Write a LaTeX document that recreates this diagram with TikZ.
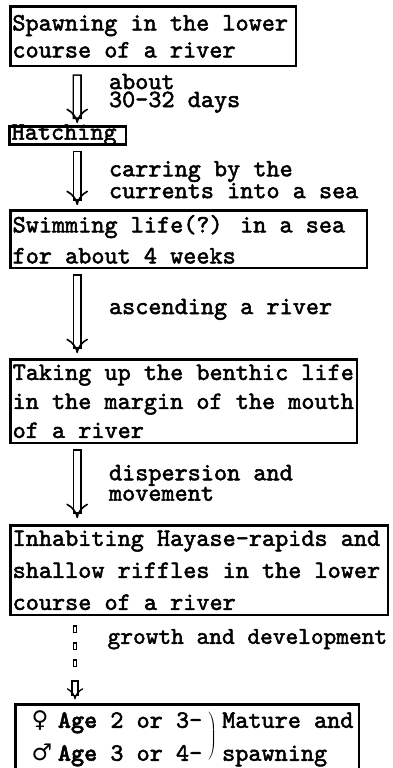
\documentclass[tikz,border=0pt]{standalone}
\usepackage{fontspec}
\setmainfont{lmmono10-regular.otf}[BoldFont=lmmonolt10-bold.otf, FakeBold=2]
\newfontfamily\gendersym{DejaVu Sans}
\usetikzlibrary{positioning,arrows.meta}

\newcommand{\stagefont}[1]{\fontsize{25}{#1}\selectfont}
\newcommand{\lblfont}{\fontsize{25}{18}\selectfont}
\newcommand{\sex}[1]{\makebox[13.1pt][l]{\gendersym\fontsize{23}{23}\selectfont #1}}

\begin{document}
\begin{tikzpicture}[
    x=1pt, y=-1pt,
    stage/.style={draw, line width=2.7pt, anchor=north west, align=flush left, inner xsep=2pt, inner ysep=0pt, font=\stagefont{30}},
    lbl/.style={align=left, inner sep=0pt, font=\lblfont},
    bigarrow/.style={draw, double, double distance=6pt, line width=1.6pt, line cap=rect, -{Implies}},
    dotline/.style={draw, double, double distance=1.6pt, line width=1.3pt, line cap=rect, dash pattern=on 3.5pt off 13.5pt}
]
\useasboundingbox (0,0) rectangle (392,768);

% Stages
\node[stage, text width=281.5pt, minimum height=59.3pt, font=\stagefont{27}] (spawn) at (9.1,5.3) {Spawning in the lower\\course of a river};
\node[stage, text width=112.3pt, text height=13pt, text depth=5pt] (hatch) at (8.3,125.3) {Hatching};
\node[stage, text width=352.3pt, minimum height=57.3pt, font=\stagefont{31}] (swim) at (9.3,209.3) {Swimming life(?) in a sea\\for about 4 weeks};
\node[stage, text width=342.3pt, minimum height=83.3pt, font=\stagefont{29}] (benthic) at (9.3,358.3) {Taking up the benthic life\\in the margin of the mouth\\of a river};
\node[stage, text width=373.3pt, minimum height=89.3pt, font=\stagefont{32}] (inhabit) at (9.3,524.3) {Inhabiting Hayase-rapids and\\shallow riffles in the lower\\course of a river};
\node[stage, text width=339.3pt, minimum height=62.3pt, font=\stagefont{33}] (mature) at (14.3,703.3)
    {\hspace*{14pt}\begin{tabular}{@{}l@{\hspace{5pt}}c@{\hspace{5pt}}l@{}}
     \sex{♀} \textbf{Age} 2 or 3- & \smash{\raisebox{-15pt}{$\left.\vcenter{\hrule height 52pt width 0pt}\right)$}} & Mature and\\
     \sex{♂} \textbf{Age} 3 or 4- & & spawning
     \end{tabular}};

% Arrows
\draw[bigarrow, shorten <=11.6pt, shorten >=2.2pt] ([xshift=68.1pt]spawn.south west) -- node[lbl, right=31pt, yshift=3pt] {about\\30-32 days} ([xshift=68.9pt]hatch.north west);
\draw[bigarrow, shorten <=9.2pt, shorten >=4.2pt] ([xshift=68.9pt]hatch.south west) -- node[lbl, right=31pt, yshift=-2pt] {carring by the\\currents into a sea} ([xshift=67.9pt]swim.north west);
\draw[bigarrow, shorten <=9.6pt, shorten >=5.2pt] ([xshift=67.9pt]swim.south west) -- node[lbl, right=31pt, yshift=4.5pt] {ascending a river} ([xshift=67.9pt]benthic.north west);
\draw[bigarrow, shorten <=9.6pt, shorten >=6.2pt] ([xshift=67.9pt]benthic.south west) -- node[lbl, right=31pt, yshift=1.4pt] {dispersion and\\movement} ([xshift=67.9pt]inhabit.north west);

% Dotted connector
\coordinate (growth) at (75,666);
\draw[dotline, shorten <=11.2pt] ([xshift=65.7pt]inhabit.south west) -- node[lbl, pos=0.46, right=32pt, font=\fontsize{24.2}{17}\selectfont] {growth and development} (growth);
\draw[bigarrow, double distance=4.5pt, line width=1.3pt, shorten <=18pt, shorten >=4pt] (growth) -- ([xshift=60.7pt]mature.north west);

\end{tikzpicture}
\end{document}
